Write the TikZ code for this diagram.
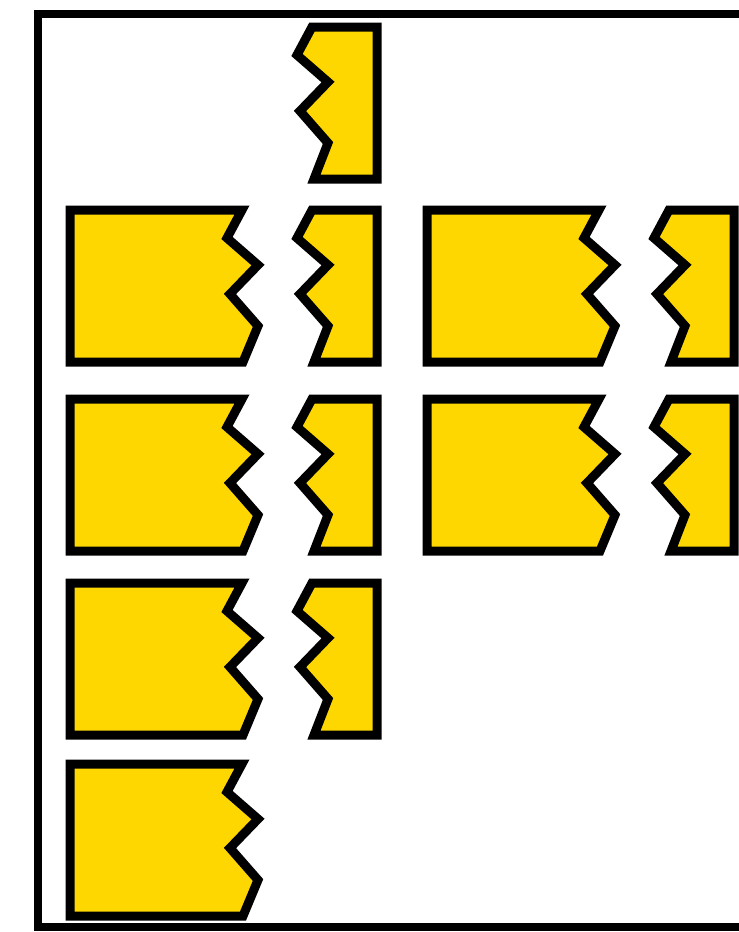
\documentclass[tikz,border=0pt]{standalone}
\usepackage{tikz}
\definecolor{piecefill}{HTML}{FFD700}
\tikzset{
  piecestyle/.style={draw=black, fill=piecefill, line width=9pt, miter limit=3},
  framestyle/.style={draw=black, line width=8.5pt},
  bigpiece/.pic={
    \path[piecestyle] (0,0) -- (172,0) -- (157,28) -- (188,55) -- (160,84) -- (188,116) -- (173,152) -- (0,152) -- cycle;
  },
  smallpiece/.pic={
    \path[piecestyle] (242,0) -- (307,0) -- (307,152) -- (244,152) -- (258,116) -- (230,84) -- (258,55) -- (227,28) -- cycle;
  }
}
\begin{document}
\begin{tikzpicture}[x=1pt,y=-1pt]
\useasboundingbox (0,0) rectangle (739,932);
\clip (0,0) rectangle (739,932);
% frame
\draw[framestyle] (800,14) -- (38,14) -- (38,927) -- (800,927);
% column 1
\pic at (70,27) {smallpiece};
\pic at (70,210) {bigpiece};
\pic at (70,210) {smallpiece};
\pic at (70,399) {bigpiece};
\pic at (70,399) {smallpiece};
\pic at (70,583) {bigpiece};
\pic at (70,583) {smallpiece};
\pic at (70,764) {bigpiece};
% column 2
\pic at (427,210) {bigpiece};
\pic at (427,210) {smallpiece};
\pic at (427,399) {bigpiece};
\pic at (427,399) {smallpiece};
\end{tikzpicture}
\end{document}
